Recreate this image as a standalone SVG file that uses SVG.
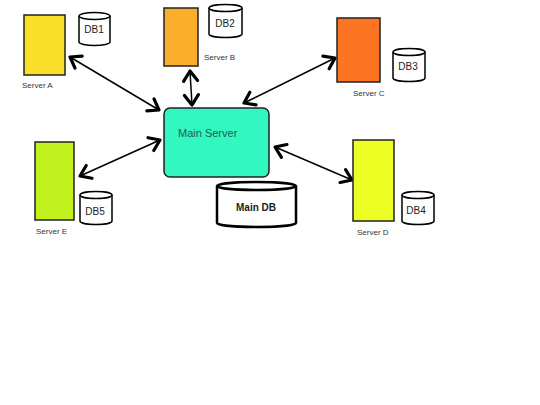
<svg xmlns="http://www.w3.org/2000/svg" width="540" height="405" viewBox="0 0 540 405">
<style>
.srv{stroke:#222;stroke-width:1.5}
.lbl{font-family:"Liberation Sans",Arial,sans-serif;font-size:8px;fill:#333}
.db{fill:#fff;stroke:#000;stroke-width:1.5}
.dbt{font-family:"Liberation Sans",Arial,sans-serif;font-size:10px;fill:#222;text-anchor:middle}
.con{stroke:#000;stroke-width:1.5;fill:none;marker-start:url(#ah);marker-end:url(#ah)}
</style>
<defs>
<marker id="ah" markerUnits="userSpaceOnUse" viewBox="-13 -9 15 18" markerWidth="15" markerHeight="18" refX="0" refY="0" orient="auto-start-reverse">
<path d="M-10,-7 L0,0 L-10,7" fill="none" stroke="#000" stroke-width="3.2" stroke-linecap="round" stroke-linejoin="round"/>
</marker>
</defs>
<rect width="540" height="405" fill="#fff"/>
<g id="connectors">
<line class="con" x1="70" y1="57" x2="159" y2="110"/>
<line class="con" x1="190" y1="71" x2="192" y2="105"/>
<line class="con" x1="335" y1="58" x2="244" y2="103"/>
<line class="con" x1="80" y1="176" x2="160" y2="140"/>
<line class="con" x1="275" y1="147" x2="352" y2="180"/>
</g>
<g id="server-a">
<rect class="srv" x="24" y="15" width="41" height="60" fill="#fbdf2b"/>
<text class="lbl" x="22" y="88">Server A</text>
</g>
<g id="db1">
<path class="db" d="M79,16 V42 A15.5,3.5 0 0 0 110,42 V16"/>
<ellipse class="db" cx="94.5" cy="16" rx="15.5" ry="3.5"/>
<text class="dbt" x="94" y="33">DB1</text>
</g>
<g id="server-b">
<rect class="srv" x="164" y="8" width="34" height="58" fill="#fbae2b"/>
<text class="lbl" x="204" y="60">Server B</text>
</g>
<g id="db2">
<path class="db" d="M209,8 V34 A16.5,3.5 0 0 0 242,34 V8"/>
<ellipse class="db" cx="225.5" cy="8" rx="16.5" ry="3.5"/>
<text class="dbt" x="225" y="27">DB2</text>
</g>
<g id="server-c">
<rect class="srv" x="337" y="18" width="43" height="64" fill="#fd7522"/>
<text class="lbl" x="353" y="96">Server C</text>
</g>
<g id="db3">
<path class="db" d="M393,52 V78 A16,3.5 0 0 0 425,78 V52"/>
<ellipse class="db" cx="409" cy="52" rx="16" ry="3.5"/>
<text class="dbt" x="408" y="70">DB3</text>
</g>
<g id="main-server">
<rect x="164" y="108" width="105" height="69" rx="6" fill="#33f7c0" stroke="#222" stroke-width="1.5"/>
<text x="178" y="137" font-family="'Liberation Sans',Arial,sans-serif" font-size="11" fill="#1f5f50">Main Server</text>
</g>
<g id="server-e">
<rect class="srv" x="35" y="142" width="39" height="78" fill="#c2f21e"/>
<text class="lbl" x="36" y="234">Server E</text>
</g>
<g id="db5">
<path class="db" d="M80,195 V221 A16,3.5 0 0 0 112,221 V195"/>
<ellipse class="db" cx="96" cy="195" rx="16" ry="3.5"/>
<text class="dbt" x="95" y="215">DB5</text>
</g>
<g id="main-db">
<path d="M217,186 V223 A39.5,4 0 0 0 296,223 V186" fill="#fff" stroke="#000" stroke-width="2.5"/>
<ellipse cx="256.5" cy="186" rx="39.5" ry="4" fill="#fff" stroke="#000" stroke-width="2.5"/>
<text x="256" y="211" font-family="'Liberation Sans',Arial,sans-serif" font-size="10" font-weight="bold" fill="#222" text-anchor="middle">Main DB</text>
</g>
<g id="server-d">
<rect class="srv" x="353" y="140" width="41" height="81" fill="#ecfe24"/>
<text class="lbl" x="357" y="235">Server D</text>
</g>
<g id="db4">
<path class="db" d="M402,195 V221 A16,3.5 0 0 0 434,221 V195"/>
<ellipse class="db" cx="418" cy="195" rx="16" ry="3.5"/>
<text class="dbt" x="416" y="214">DB4</text>
</g>
</svg>
